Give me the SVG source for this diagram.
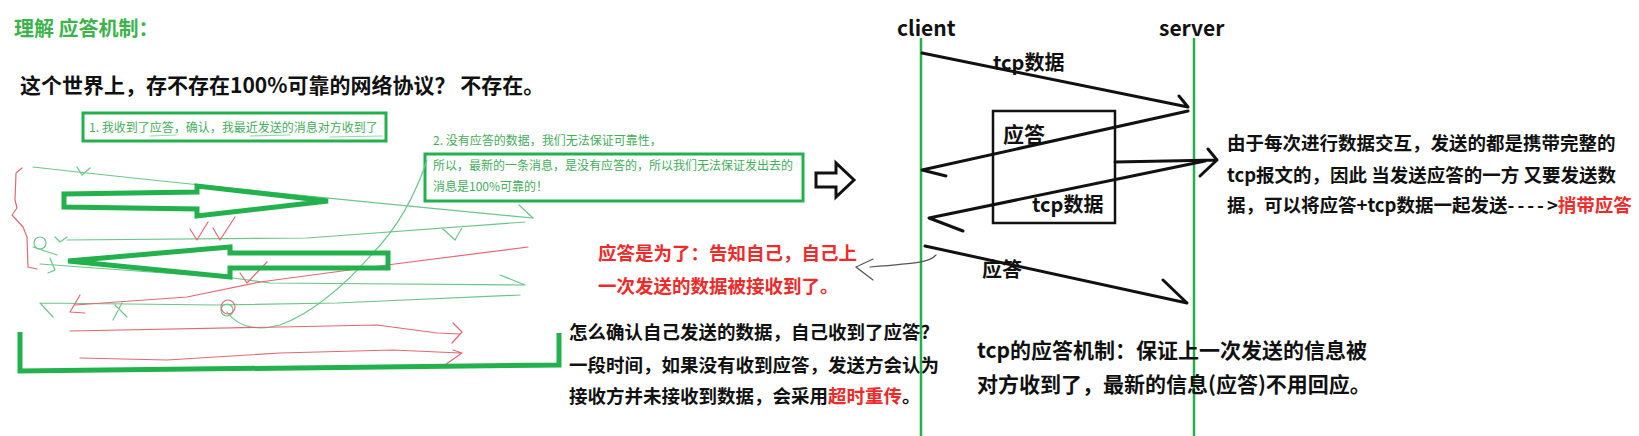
<svg xmlns="http://www.w3.org/2000/svg" width="1639" height="436" viewBox="0 0 1639 436">
<style>
text{font-family:"Noto Sans CJK SC","Liberation Sans",sans-serif;}
.b{font-weight:bold;}
.blk{fill:#111;}
.red{fill:#ee2a2a;}
.gt{fill:#3cb44b;}
.gs{fill:#44ad5c;font-size:12px;}
.gbox{fill:none;stroke:#22b14c;stroke-width:3;}
.big{fill:none;stroke:#22b14c;stroke-width:5;stroke-linejoin:miter;}
.sg{fill:none;stroke:#6cc68a;stroke-width:1.2;stroke-linecap:round;stroke-linejoin:round;}
.sr{fill:none;stroke:#e06a72;stroke-width:1.2;stroke-linecap:round;stroke-linejoin:round;}
.life{stroke:#22b14c;stroke-width:2.5;}
.msg{fill:none;stroke:#111;stroke-width:3;stroke-linecap:round;stroke-linejoin:round;}
</style>
<rect width="1639" height="436" fill="#fff"/>

<g id="title">
<text x="14" y="36" class="b gt" font-size="20">理解 应答机制：</text>
</g>
<g id="question">
<text x="20" y="93" class="b blk" font-size="21">这个世界上，存不存在100%可靠的网络协议？ 不存在。</text>
</g>

<g id="note1">
<rect x="83" y="113" width="303" height="28" class="gbox"/>
<text x="89" y="132" class="gs">1. 我收到了应答，确认，我最近发送的消息对方收到了</text>
<path class="sg" d="M150,136 L176,135 M250,136 L290,135 M330,137 L382,136" opacity="0.7"/>
</g>

<g id="note2">
<text x="433" y="145" class="gs">2. 没有应答的数据，我们无法保证可靠性，</text>
<rect x="425" y="154" width="378" height="47" class="gbox"/>
<text x="433" y="170" class="gs">所以，最新的一条消息，是没有应答的，所以我们无法保证发出去的</text>
<text x="433" y="191" class="gs">消息是100%可靠的！</text>
</g>

<g id="sketch">
<path class="sr" d="M22,168 L16,173 L15,200 L17,208 L12,215 L23,227 L27,237 L28,267 L37,269"/>
<path class="sg" d="M33,167 Q200,186 533,218 M519,205 L533,218"/>
<path class="sg" d="M77,167 L82,175 L90,168"/>
<path class="sg" d="M67,240 L307,238 L525,222 M55,237 L60,242 L67,237 M443,229 L455,240 L463,226"/>
<circle cx="40" cy="243" r="6" class="sg"/>
<path class="sg" d="M33,247 L57,255 M50,258 L55,270 L48,273"/>
<path class="sg" d="M40,264 L233,278 L270,283 L525,285 M500,275 L525,285"/>
<path class="sg" d="M40,303 L217,305 L337,303 L520,295 M40,303 L53,317 M115,305 L127,317 M122,303 L113,320"/>
<circle cx="227" cy="310" r="6" class="sg"/>
<path class="sg" d="M427,160 C417,190 400,225 373,253 C345,285 315,312 280,325 C262,330 240,330 227,312"/>
<path class="sr" d="M190,229 L197,240 L208,222 M213,228 L220,240 L235,217 M240,273 L247,283 L267,262"/>
<path class="sr" d="M528,247 L387,265 L260,282 L187,297 L75,305 M80,295 L70,312 L85,313"/>
<circle cx="228" cy="307" r="7" class="sr"/>
<path class="sr" d="M70,331 L280,327 L377,325 L437,333 L460,334 M453,323 L462,332 L452,343"/>
<path class="sr" d="M80,358 L167,360 L280,353 L393,350 L460,353 M453,350 L462,353 L442,367"/>
<path class="big" d="M64,194 L197,192 L197,186 L328,201 L197,216 L197,209 L64,207 Z"/>
<path class="big" d="M68,261 L230,247 L230,253 L388,253 L388,268 L230,268 L230,277 Z"/>
<path class="big" d="M20,332 L20,371 L559,365 L559,333" stroke-linejoin="round"/>
</g>

<g id="hollow-arrow">
<polygon points="816,173 836,173 836,163 854,180 836,197 836,187 816,187" fill="#fff" stroke="#111" stroke-width="3"/>
</g>

<g id="ack-purpose">
<text x="598" y="260" class="b red" font-size="18.5">应答是为了：告知自己，自己上</text>
<text x="598" y="293" class="b red" font-size="18.5">一次发送的数据被接收到了。</text>
</g>

<g id="how-confirm">
<text x="569" y="339" class="b blk" font-size="18.5">怎么确认自己发送的数据，自己收到了应答?</text>
<text x="569" y="372" class="b blk" font-size="18.5">一段时间，如果没有收到应答，发送方会认为</text>
<text x="569" y="403" class="b blk" font-size="18.5">接收方并未接收到数据，会采用<tspan class="red">超时重传</tspan>。</text>
</g>

<g id="client">
<text x="897" y="36" class="b blk" font-size="21">client</text>
<line x1="921" y1="38" x2="921" y2="436" class="life"/>
</g>
<g id="server">
<text x="1159" y="36" class="b blk" font-size="21">server</text>
<line x1="1194" y1="38" x2="1194" y2="436" class="life"/>
</g>

<g id="piggyback-box">
<rect x="993" y="111" width="122" height="112" fill="none" stroke="#111" stroke-width="2.5"/>
<text x="1003" y="142" class="b blk" font-size="21">应答</text>
<text x="1032" y="212" class="b blk" font-size="20">tcp数据</text>
</g>

<g id="labels">
<text x="993" y="70" class="b blk" font-size="20">tcp数据</text>
<text x="982" y="277" class="b blk" font-size="20">应答</text>
</g>

<g id="connectors">
<path class="msg" d="M922,53 L1188,107 L1179,96"/>
<path class="msg" d="M1188,111 L922,170 L946,176"/>
<path class="msg" d="M1115,162 L1217,160 M1208,149 L1217,160 L1200,176"/>
<path class="msg" d="M1205,161 L929,218 L963,231"/>
<path class="msg" d="M925,246 L1187,303 L1163,280"/>
<path d="M936,255 C930,262 920,263 870,267 M873,259 L856,267 L873,280" fill="none" stroke="#555" stroke-width="1.2" stroke-linecap="round"/>
</g>

<g id="piggyback-note">
<text x="1227" y="150" class="b blk" font-size="18.5">由于每次进行数据交互，发送的都是携带完整的</text>
<text x="1227" y="182" class="b blk" font-size="18.5">tcp报文的，因此 当发送应答的一方 又要发送数</text>
<text x="1227" y="212" class="b blk" font-size="18.5">据，可以将应答+tcp数据一起发送<tspan letter-spacing="3">----</tspan>&gt;<tspan class="red">捎带应答</tspan></text>
</g>

<g id="mechanism">
<text x="977" y="358" class="b blk" font-size="21">tcp的应答机制：保证上一次发送的信息被</text>
<text x="977" y="392" class="b blk" font-size="21">对方收到了，最新的信息(应答)不用回应。</text>
</g>
</svg>
